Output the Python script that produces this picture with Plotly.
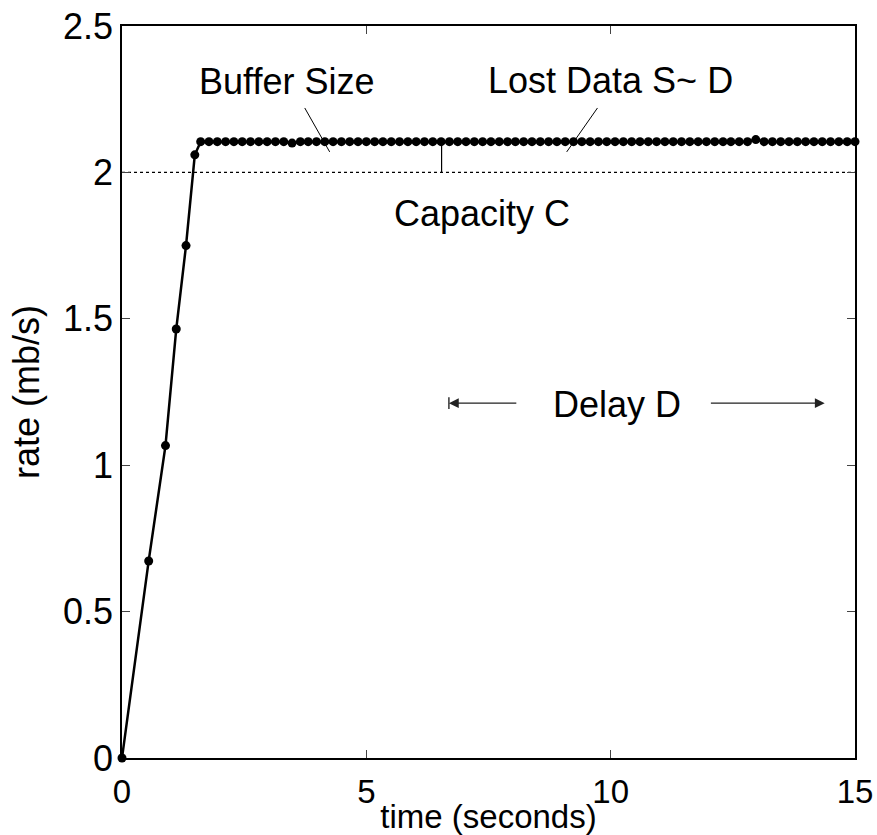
import plotly.graph_objects as go

# ramp phase (time s, rate mb/s)
ramp_t = [0.0, 0.546, 0.89, 1.11, 1.31, 1.49]
ramp_r = [0.0, 0.673, 1.067, 1.465, 1.75, 2.06]

# plateau phase
plateau_t = [1.61, 1.78, 1.95, 2.12, 2.29, 2.46, 2.63, 2.80, 2.97, 3.14,
             3.31, 3.48, 3.65, 3.81, 3.98, 4.15, 4.32, 4.49, 4.66, 4.83,
             5.00, 5.17, 5.34, 5.51, 5.68, 5.85, 6.02, 6.19, 6.36, 6.53,
             6.70, 6.87, 7.04, 7.21, 7.38, 7.55, 7.72, 7.89, 8.05, 8.22,
             8.39, 8.56, 8.73, 8.90, 9.07, 9.24, 9.41, 9.58, 9.75, 9.92,
             10.09, 10.26, 10.43, 10.60, 10.77, 10.94, 11.11, 11.28, 11.45, 11.62,
             11.79, 11.96, 12.13, 12.30, 12.46, 12.63, 12.80, 12.97, 13.14, 13.31,
             13.48, 13.65, 13.82, 13.99, 14.16, 14.33, 14.50, 14.67, 14.84, 15.00]
plateau_r = [2.105, 2.105, 2.105, 2.105, 2.105, 2.105, 2.105, 2.105, 2.105, 2.105,
             2.105, 2.100, 2.105, 2.105, 2.105, 2.105, 2.105, 2.105, 2.105, 2.105,
             2.105, 2.105, 2.105, 2.105, 2.105, 2.105, 2.105, 2.105, 2.105, 2.105,
             2.105, 2.105, 2.105, 2.105, 2.105, 2.105, 2.105, 2.105, 2.105, 2.105,
             2.105, 2.105, 2.105, 2.105, 2.105, 2.105, 2.105, 2.105, 2.105, 2.105,
             2.105, 2.105, 2.105, 2.105, 2.105, 2.105, 2.105, 2.105, 2.105, 2.105,
             2.105, 2.105, 2.105, 2.105, 2.105, 2.105, 2.105, 2.112, 2.105, 2.105,
             2.105, 2.105, 2.105, 2.105, 2.105, 2.105, 2.105, 2.105, 2.105, 2.105]

capacity = 2.0
t_range = [0, 15]
r_range = [0, 2.5]
x_ticks = [0, 5, 10, 15]
y_ticks = [0, 0.5, 1, 1.5, 2, 2.5]
y_tick_text = ["0", "0.5", "1", "1.5", "2", "2.5"]

# annotation geometry (data coords)
buffer_marker_t = 6.54
buffer_leader = ([3.74, 4.25], [2.22, 2.07])
lost_leader = ([9.73, 9.10], [2.22, 2.07])
delay_left = (6.69, 8.10)
delay_right = (12.02, 14.38)
delay_y = 1.212

FONT = "Arial, Liberation Sans, Helvetica, sans-serif"
FS = 36
FSX = 33

fig = go.Figure()

fig.add_trace(go.Scatter(x=t_range, y=[capacity, capacity], mode="lines",
                         line=dict(color="black", width=1.2, dash="dot"),
                         hoverinfo="skip", showlegend=False))
fig.add_trace(go.Scatter(x=ramp_t + plateau_t, y=ramp_r + plateau_r,
                         mode="lines+markers",
                         line=dict(color="black", width=2.5),
                         marker=dict(color="black", size=9),
                         cliponaxis=False, showlegend=False))
fig.add_trace(go.Scatter(x=[buffer_marker_t, buffer_marker_t], y=[capacity, plateau_r[29]],
                         mode="lines", line=dict(color="black", width=1.2),
                         showlegend=False))
fig.add_trace(go.Scatter(x=buffer_leader[0], y=buffer_leader[1], mode="lines",
                         line=dict(color="black", width=1), showlegend=False))
fig.add_trace(go.Scatter(x=lost_leader[0], y=lost_leader[1], mode="lines",
                         line=dict(color="black", width=1), showlegend=False))
fig.add_trace(go.Scatter(x=[delay_left[0], delay_left[0]], y=[delay_y - 0.02, delay_y + 0.02],
                         mode="lines", line=dict(color="black", width=1.2), showlegend=False))

texts = [("Buffer Size", 3.37, 2.312), ("Lost Data S~ D", 10.0, 2.315),
         ("Capacity C", 7.36, 1.861), ("Delay D", 10.12, 1.209)]
for txt, tx, ty in texts:
    fig.add_annotation(x=tx, y=ty, text=txt, showarrow=False,
                       font=dict(family=FONT, size=FS, color="black"),
                       xanchor="center", yanchor="middle")

for head, tail in [(delay_left[0], delay_left[1]), (delay_right[1], delay_right[0])]:
    fig.add_annotation(x=head, y=delay_y, ax=tail, ay=delay_y, axref="x", ayref="y",
                       text="", showarrow=True, arrowhead=2, arrowsize=1.4,
                       arrowwidth=1.4, arrowcolor="#222")

axis_common = dict(showline=True, linecolor="black", linewidth=1.5, mirror="ticks",
                   ticks="inside", ticklen=8, tickwidth=1.2, tickcolor="#444",
                   showgrid=False, zeroline=False, automargin=False)

fig.update_xaxes(range=t_range, tickvals=x_ticks, ticktext=[str(v) for v in x_ticks],
                 tickfont=dict(family=FONT, size=FSX, color="black"),
                 title=dict(text="time (seconds)", font=dict(family=FONT, size=FSX, color="black"),
                            standoff=6),
                 ticklabelstandoff=4, **axis_common)
fig.update_yaxes(range=r_range, tickvals=y_ticks, ticktext=y_tick_text,
                 tickfont=dict(family=FONT, size=FS, color="black"),
                 title=dict(text="rate (mb/s)", font=dict(family=FONT, size=FS, color="black"),
                            standoff=12),
                 ticklabelstandoff=0, **axis_common)

fig.update_layout(width=877, height=835, margin=dict(l=122, r=22, t=26, b=77),
                  paper_bgcolor="white", plot_bgcolor="white",
                  font=dict(family=FONT, size=FS, color="black"))

fig.write_html("out.html")
